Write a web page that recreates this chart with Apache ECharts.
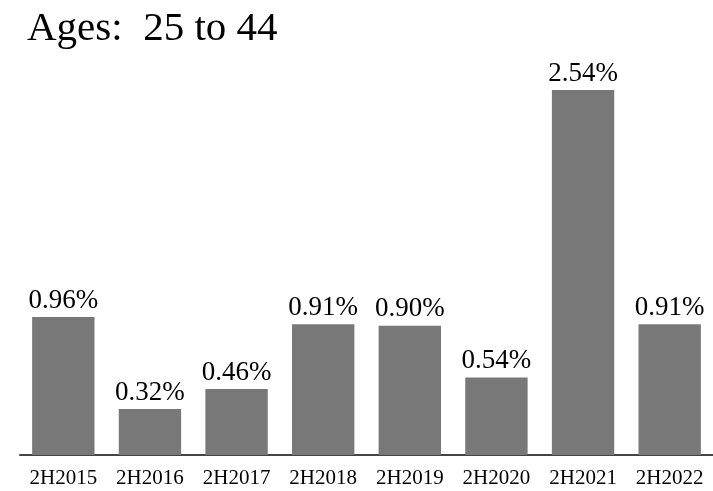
<!DOCTYPE html>
<html>
<head>
<meta charset="utf-8">
<script src="https://cdn.jsdelivr.net/npm/echarts@6/dist/echarts.min.js"></script>
<style>
  html, body { margin: 0; padding: 0; background: #fff; }
  #main { width: 713px; height: 491px; }
</style>
</head>
<body>
<div id="main"></div>
<script>
var categories = ['2H2015', '2H2016', '2H2017', '2H2018', '2H2019', '2H2020', '2H2021', '2H2022'];
var values = [0.96, 0.32, 0.46, 0.91, 0.90, 0.54, 2.54, 0.91];
var titleText = 'Ages:  25 to 44';

var chart = echarts.init(document.getElementById('main'));
var option = {
    animation: false,
    backgroundColor: '#fff',
    title: {
        text: titleText,
        left: 22,
        top: 4,
        textStyle: {
            fontFamily: 'Liberation Serif',
            fontWeight: 'normal',
            fontSize: 41,
            color: '#000'
        }
    },
    grid: {
        left: 20,
        right: 0,
        top: 24,
        bottom: 36
    },
    xAxis: {
        type: 'category',
        data: categories,
        axisLine: { lineStyle: { color: '#444', width: 2 } },
        axisTick: { show: false },
        axisLabel: {
            interval: 0,
            hideOverlap: false,
            margin: 13,
            fontFamily: 'Liberation Serif',
            fontSize: 21,
            color: '#000'
        }
    },
    yAxis: {
        type: 'value',
        min: 0,
        max: 3,
        show: false,
        splitLine: { show: false }
    },
    series: [{
        type: 'bar',
        data: values,
        barCategoryGap: '28%',
        itemStyle: { color: '#787878' },
        label: {
            show: true,
            position: 'top',
            distance: 3,
            fontFamily: 'Liberation Serif',
            fontSize: 27,
            color: '#000',
            formatter: function (p) {
                return p.value.toFixed(2) + '%';
            }
        }
    }]
};
chart.setOption(option);
</script>
</body>
</html>
